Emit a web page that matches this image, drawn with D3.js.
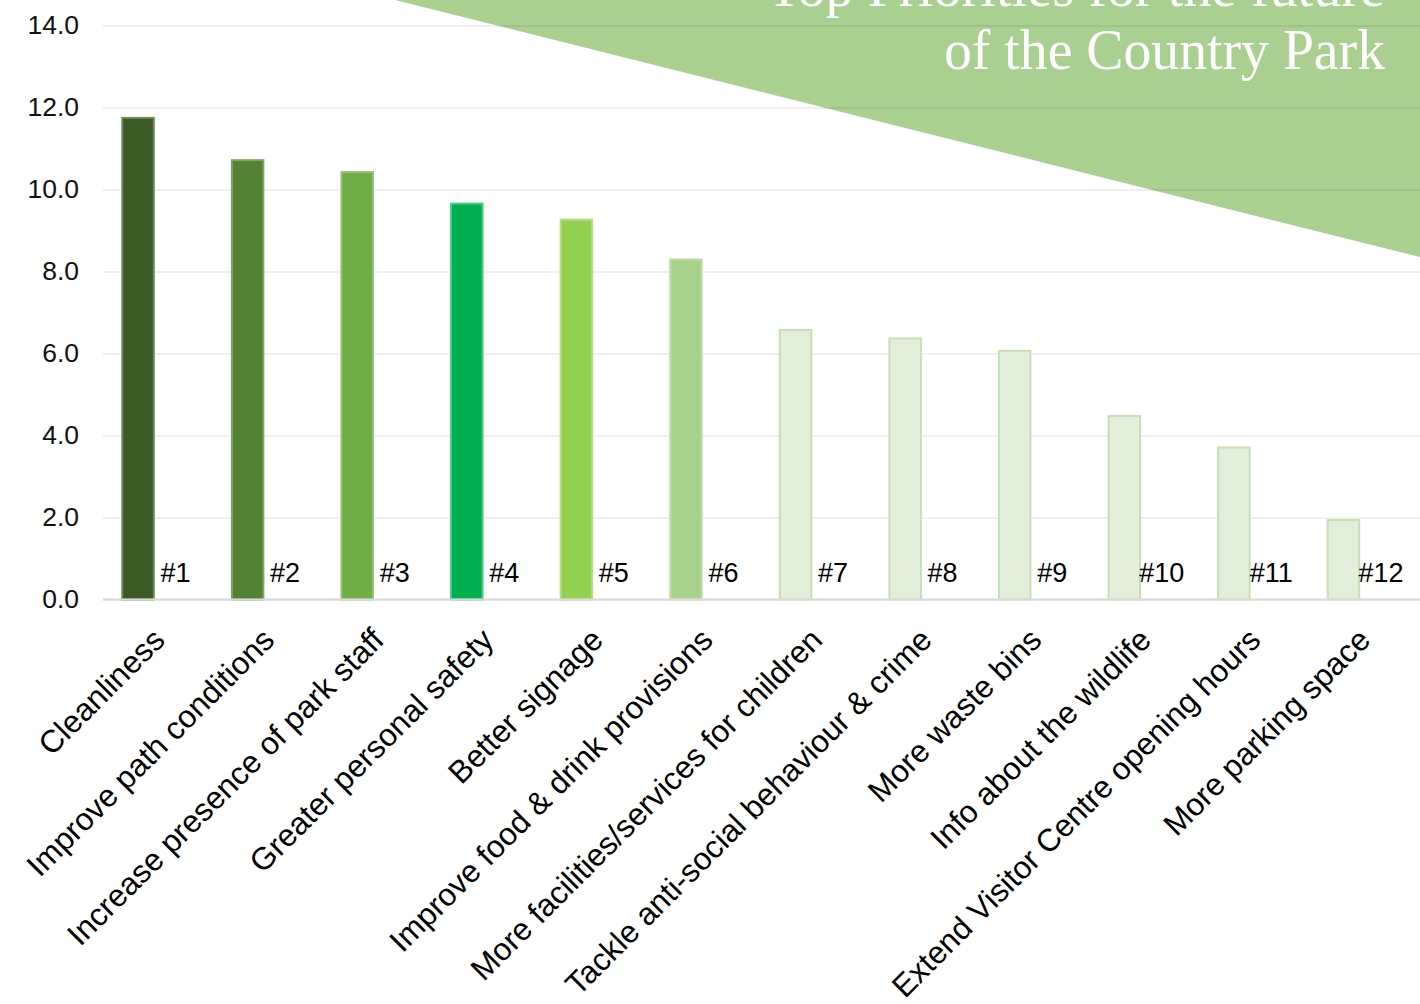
<!DOCTYPE html>
<html>
<head>
<meta charset="utf-8">
<script src="https://cdn.jsdelivr.net/npm/d3@7"></script>
<style>
  html, body { margin: 0; padding: 0; background: #ffffff; }
  svg { display: block; }
</style>
</head>
<body>
<svg id="chart" width="1420" height="1004"></svg>
<script>
// ---- data ----
const categories = [
  "Cleanliness",
  "Improve path conditions",
  "Increase presence of park staff",
  "Greater personal safety",
  "Better signage",
  "Improve food & drink provisions",
  "More facilities/services for children",
  "Tackle anti-social behaviour & crime",
  "More waste bins",
  "Info about the wildlife",
  "Extend Visitor Centre opening hours",
  "More parking space"
];
const values = [11.77, 10.74, 10.45, 9.68, 9.29, 8.32, 6.60, 6.39, 6.09, 4.50, 3.73, 1.96];
const rankLabels = ["#1","#2","#3","#4","#5","#6","#7","#8","#9","#10","#11","#12"];
const barColors = ["#3b5a26","#548235","#70ad47","#00b050","#92d050","#a9d18e",
                   "#e2efda","#e2efda","#e2efda","#e2efda","#e2efda","#e2efda"];
const barStrokes = ["#6b8a55","#7ea363","#93c274","#4cc884","#b2e08a","#bfdcab",
                    "#c5e0b4","#c5e0b4","#c5e0b4","#c5e0b4","#c5e0b4","#c5e0b4"];
const yTicks = [0, 2, 4, 6, 8, 10, 12, 14];
const titleLines = ["Top Priorities for the future", "of the Country Park"];

// ---- layout ----
const svg = d3.select("#chart");
const plotLeft = 100, plotRight = 1415, gridLeft = 103, gridRight = 1420;
const y = d3.scaleLinear().domain([0, 14]).range([599.5, 25.5]);
const x0 = d3.scaleBand().domain(categories).range([plotLeft, plotRight]).padding(0);
const x1 = d3.scaleBand().domain(["bar", "rank"]).range([0, x0.bandwidth()])
  .paddingInner(0).paddingOuter(0.636);

// background triangle banner
const tri = d3.line();
const triX = d3.scaleLinear().domain([0, 1]).range([395, 1420]);
const triY = d3.scaleLinear().domain([0, 1]).range([0, 257]);
svg.append("path")
  .attr("d", tri([[triX(0), triY(0)], [triX(1), triY(0)], [triX(1), triY(1)]]) + "Z")
  .attr("fill", "#a9cf91");

// gridlines
const yAxis = d3.axisLeft(y).tickValues(yTicks).tickSize(-(gridRight - gridLeft))
  .tickFormat(d3.format(".1f")).tickPadding(24);
const gy = svg.append("g").attr("transform", `translate(${gridLeft},0)`).call(yAxis);
gy.select(".domain").remove();
gy.selectAll(".tick line").attr("stroke", "#000").attr("stroke-opacity", 0.06).attr("stroke-width", 2);
gy.selectAll(".tick text")
  .attr("font-family", "'Liberation Sans', Arial, sans-serif")
  .attr("font-size", 26.5).attr("fill", "#111");

// title
const titleWidths = [618, 441];
const title = svg.append("text")
  .attr("text-anchor", "end")
  .attr("font-family", "'Liberation Serif', 'Times New Roman', serif")
  .attr("font-size", 57)
  .attr("fill", "#ffffff");
title.selectAll("tspan").data(titleLines).join("tspan")
  .attr("x", 1385)
  .attr("y", (d, i) => 6 + i * 63)
  .attr("textLength", (d, i) => titleWidths[i])
  .attr("lengthAdjust", "spacingAndGlyphs")
  .text(d => d);

// bars
svg.append("g").selectAll("rect").data(values).join("rect")
  .attr("x", (d, i) => x0(categories[i]) + x1("bar") + 1)
  .attr("y", d => y(d) + 1)
  .attr("width", x1.bandwidth() - 2)
  .attr("height", d => y(0) - y(d) - 1)
  .attr("fill", (d, i) => barColors[i])
  .attr("stroke", (d, i) => barStrokes[i])
  .attr("stroke-width", 2);

// x axis baseline
svg.append("line")
  .attr("x1", gridLeft).attr("x2", gridRight)
  .attr("y1", y(0)).attr("y2", y(0))
  .attr("stroke", "#d9d9d9").attr("stroke-width", 2);

// rank labels
svg.append("g").selectAll("text").data(rankLabels).join("text")
  .attr("x", (d, i) => x0(categories[i]) + x1("rank") + x1.bandwidth() / 2 + 4)
  .attr("y", 582)
  .attr("text-anchor", "middle")
  .attr("font-family", "'Liberation Sans', Arial, sans-serif")
  .attr("font-size", 27)
  .attr("fill", "#000")
  .text(d => d);

// category labels
svg.append("g").selectAll("text").data(categories).join("text")
  .attr("transform", d => `translate(${x0(d) + x0.bandwidth() / 2 - 4},626) rotate(-45)`)
  .attr("dy", "0.71em")
  .attr("text-anchor", "end")
  .attr("font-family", "'Liberation Sans', Arial, sans-serif")
  .attr("font-size", 31.5)
  .attr("fill", "#000")
  .text(d => d);
</script>
</body>
</html>
